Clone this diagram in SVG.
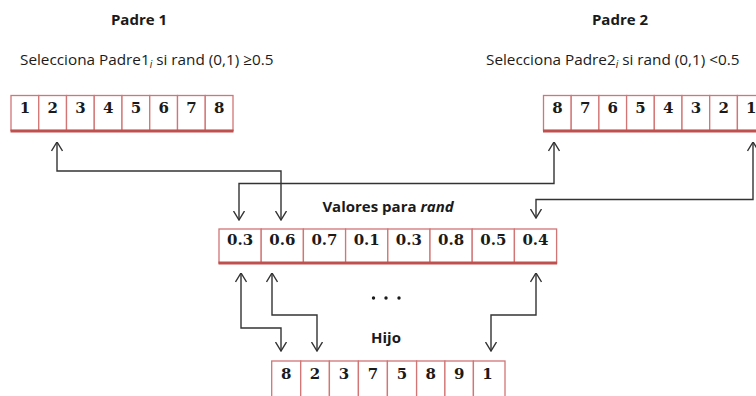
<svg xmlns="http://www.w3.org/2000/svg" width="756" height="396" viewBox="0 0 756 396">
<defs>
<style>
.cell{fill:#fff;stroke:#D27574;stroke-width:1.3}
.bar{fill:#C0504D}
.num{font-family:"DejaVu Serif","Liberation Serif",serif;font-weight:bold;font-size:15px;fill:#1a1a1a;text-anchor:middle}
.title{font-family:"Open Sans","Liberation Sans",sans-serif;font-weight:bold;font-size:15px;fill:#1a1a1a;text-anchor:middle}
.lbl{font-family:"Open Sans","Liberation Sans",sans-serif;font-size:15.3px;fill:#1a1a1a}
.sub{font-style:italic;font-size:10px}
.conn{fill:none;stroke:#333;stroke-width:1.4;marker-start:url(#ah);marker-end:url(#ah)}
</style>
<marker id="ah" viewBox="0 0 10 12" refX="9.5" refY="6" markerWidth="10" markerHeight="12" markerUnits="userSpaceOnUse" orient="auto-start-reverse">
<path d="M0.5,0.5 L9.5,6 L0.5,11.5" fill="none" stroke="#333" stroke-width="1.4"/>
</marker>
</defs>

<g id="padre1-label">
<text class="title" x="139" y="25">Padre 1</text>
<text class="lbl" x="20" y="65">Selecciona Padre1<tspan class="sub" dy="3">i</tspan><tspan dy="-3"> si rand (0,1) ≥0.5</tspan></text>
</g>
<g id="padre2-label">
<text class="title" x="620" y="25">Padre 2</text>
<text class="lbl" x="486" y="65">Selecciona Padre2<tspan class="sub" dy="3">i</tspan><tspan dy="-3"> si rand (0,1) &lt;0.5</tspan></text>
</g>

<g id="padre1">
<rect class="cell" x="11" y="95.5" width="27.75" height="35"/>
<rect class="cell" x="38.75" y="95.5" width="27.75" height="35"/>
<rect class="cell" x="66.5" y="95.5" width="27.75" height="35"/>
<rect class="cell" x="94.25" y="95.5" width="27.75" height="35"/>
<rect class="cell" x="122" y="95.5" width="27.75" height="35"/>
<rect class="cell" x="149.75" y="95.5" width="27.75" height="35"/>
<rect class="cell" x="177.5" y="95.5" width="27.75" height="35"/>
<rect class="cell" x="205.25" y="95.5" width="27.75" height="35"/>
<rect class="bar" x="10.5" y="129.5" width="223" height="3"/>
<text class="num" x="24.9" y="112.5">1</text>
<text class="num" x="52.6" y="112.5">2</text>
<text class="num" x="80.4" y="112.5">3</text>
<text class="num" x="108.1" y="112.5">4</text>
<text class="num" x="135.9" y="112.5">5</text>
<text class="num" x="163.6" y="112.5">6</text>
<text class="num" x="191.4" y="112.5">7</text>
<text class="num" x="219.1" y="112.5">8</text>
</g>

<g id="padre2">
<rect class="cell" x="543.5" y="95.5" width="27.7" height="35"/>
<rect class="cell" x="571.2" y="95.5" width="27.7" height="35"/>
<rect class="cell" x="598.9" y="95.5" width="27.7" height="35"/>
<rect class="cell" x="626.6" y="95.5" width="27.7" height="35"/>
<rect class="cell" x="654.3" y="95.5" width="27.7" height="35"/>
<rect class="cell" x="682" y="95.5" width="27.7" height="35"/>
<rect class="cell" x="709.7" y="95.5" width="27.7" height="35"/>
<rect class="cell" x="737.4" y="95.5" width="27.7" height="35"/>
<rect class="bar" x="543" y="129.5" width="222" height="3"/>
<text class="num" x="557.4" y="112.5">8</text>
<text class="num" x="585.1" y="112.5">7</text>
<text class="num" x="612.8" y="112.5">6</text>
<text class="num" x="640.5" y="112.5">5</text>
<text class="num" x="668.2" y="112.5">4</text>
<text class="num" x="695.9" y="112.5">3</text>
<text class="num" x="723.6" y="112.5">2</text>
<text class="num" x="751.3" y="112.5">1</text>
</g>

<g id="valores">
<text class="title" x="388" y="212">Valores para <tspan font-style="italic">rand</tspan></text>
<rect class="cell" x="219" y="229" width="42.2" height="34"/>
<rect class="cell" x="261.2" y="229" width="42.2" height="34"/>
<rect class="cell" x="303.4" y="229" width="42.2" height="34"/>
<rect class="cell" x="345.6" y="229" width="42.2" height="34"/>
<rect class="cell" x="387.8" y="229" width="42.2" height="34"/>
<rect class="cell" x="430" y="229" width="42.2" height="34"/>
<rect class="cell" x="472.2" y="229" width="42.2" height="34"/>
<rect class="cell" x="514.4" y="229" width="42.2" height="34"/>
<rect class="bar" x="218.5" y="261.5" width="338.6" height="3"/>
<text class="num" x="240.1" y="245">0.3</text>
<text class="num" x="282.3" y="245">0.6</text>
<text class="num" x="324.5" y="245">0.7</text>
<text class="num" x="366.7" y="245">0.1</text>
<text class="num" x="408.9" y="245">0.3</text>
<text class="num" x="451.1" y="245">0.8</text>
<text class="num" x="493.3" y="245">0.5</text>
<text class="num" x="535.5" y="245">0.4</text>
</g>

<g id="dots" fill="#1a1a1a">
<circle cx="373.5" cy="298" r="1.7"/>
<circle cx="386" cy="298" r="1.7"/>
<circle cx="399" cy="298" r="1.7"/>
</g>

<g id="hijo">
<text class="title" x="386" y="343">Hijo</text>
<rect class="cell" x="271.7" y="361" width="29" height="40"/>
<rect class="cell" x="300.7" y="361" width="28.7" height="40"/>
<rect class="cell" x="329.4" y="361" width="29" height="40"/>
<rect class="cell" x="358.4" y="361" width="29" height="40"/>
<rect class="cell" x="387.4" y="361" width="29.2" height="40"/>
<rect class="cell" x="416.6" y="361" width="28.3" height="40"/>
<rect class="cell" x="444.9" y="361" width="28.5" height="40"/>
<rect class="cell" x="473.4" y="361" width="31.6" height="40"/>
<text class="num" x="286.2" y="378.5">8</text>
<text class="num" x="315" y="378.5">2</text>
<text class="num" x="343.9" y="378.5">3</text>
<text class="num" x="372.9" y="378.5">7</text>
<text class="num" x="402" y="378.5">5</text>
<text class="num" x="430.7" y="378.5">8</text>
<text class="num" x="459.1" y="378.5">9</text>
<text class="num" x="487.5" y="378.5">1</text>
</g>

<g id="connectors">
<polyline class="conn" points="57,142 57,171 281,171 281,220"/>
<polyline class="conn" points="239,220 239,183.5 554,183.5 554,142"/>
<polyline class="conn" points="536,218 536,199.5 753,199.5 753,142"/>
<polyline class="conn" points="241,273 241,328 281,328 281,351"/>
<polyline class="conn" points="272,273 272,315 317,315 317,351"/>
<polyline class="conn" points="536,273 536,315 491,315 491,351"/>
</g>
</svg>
